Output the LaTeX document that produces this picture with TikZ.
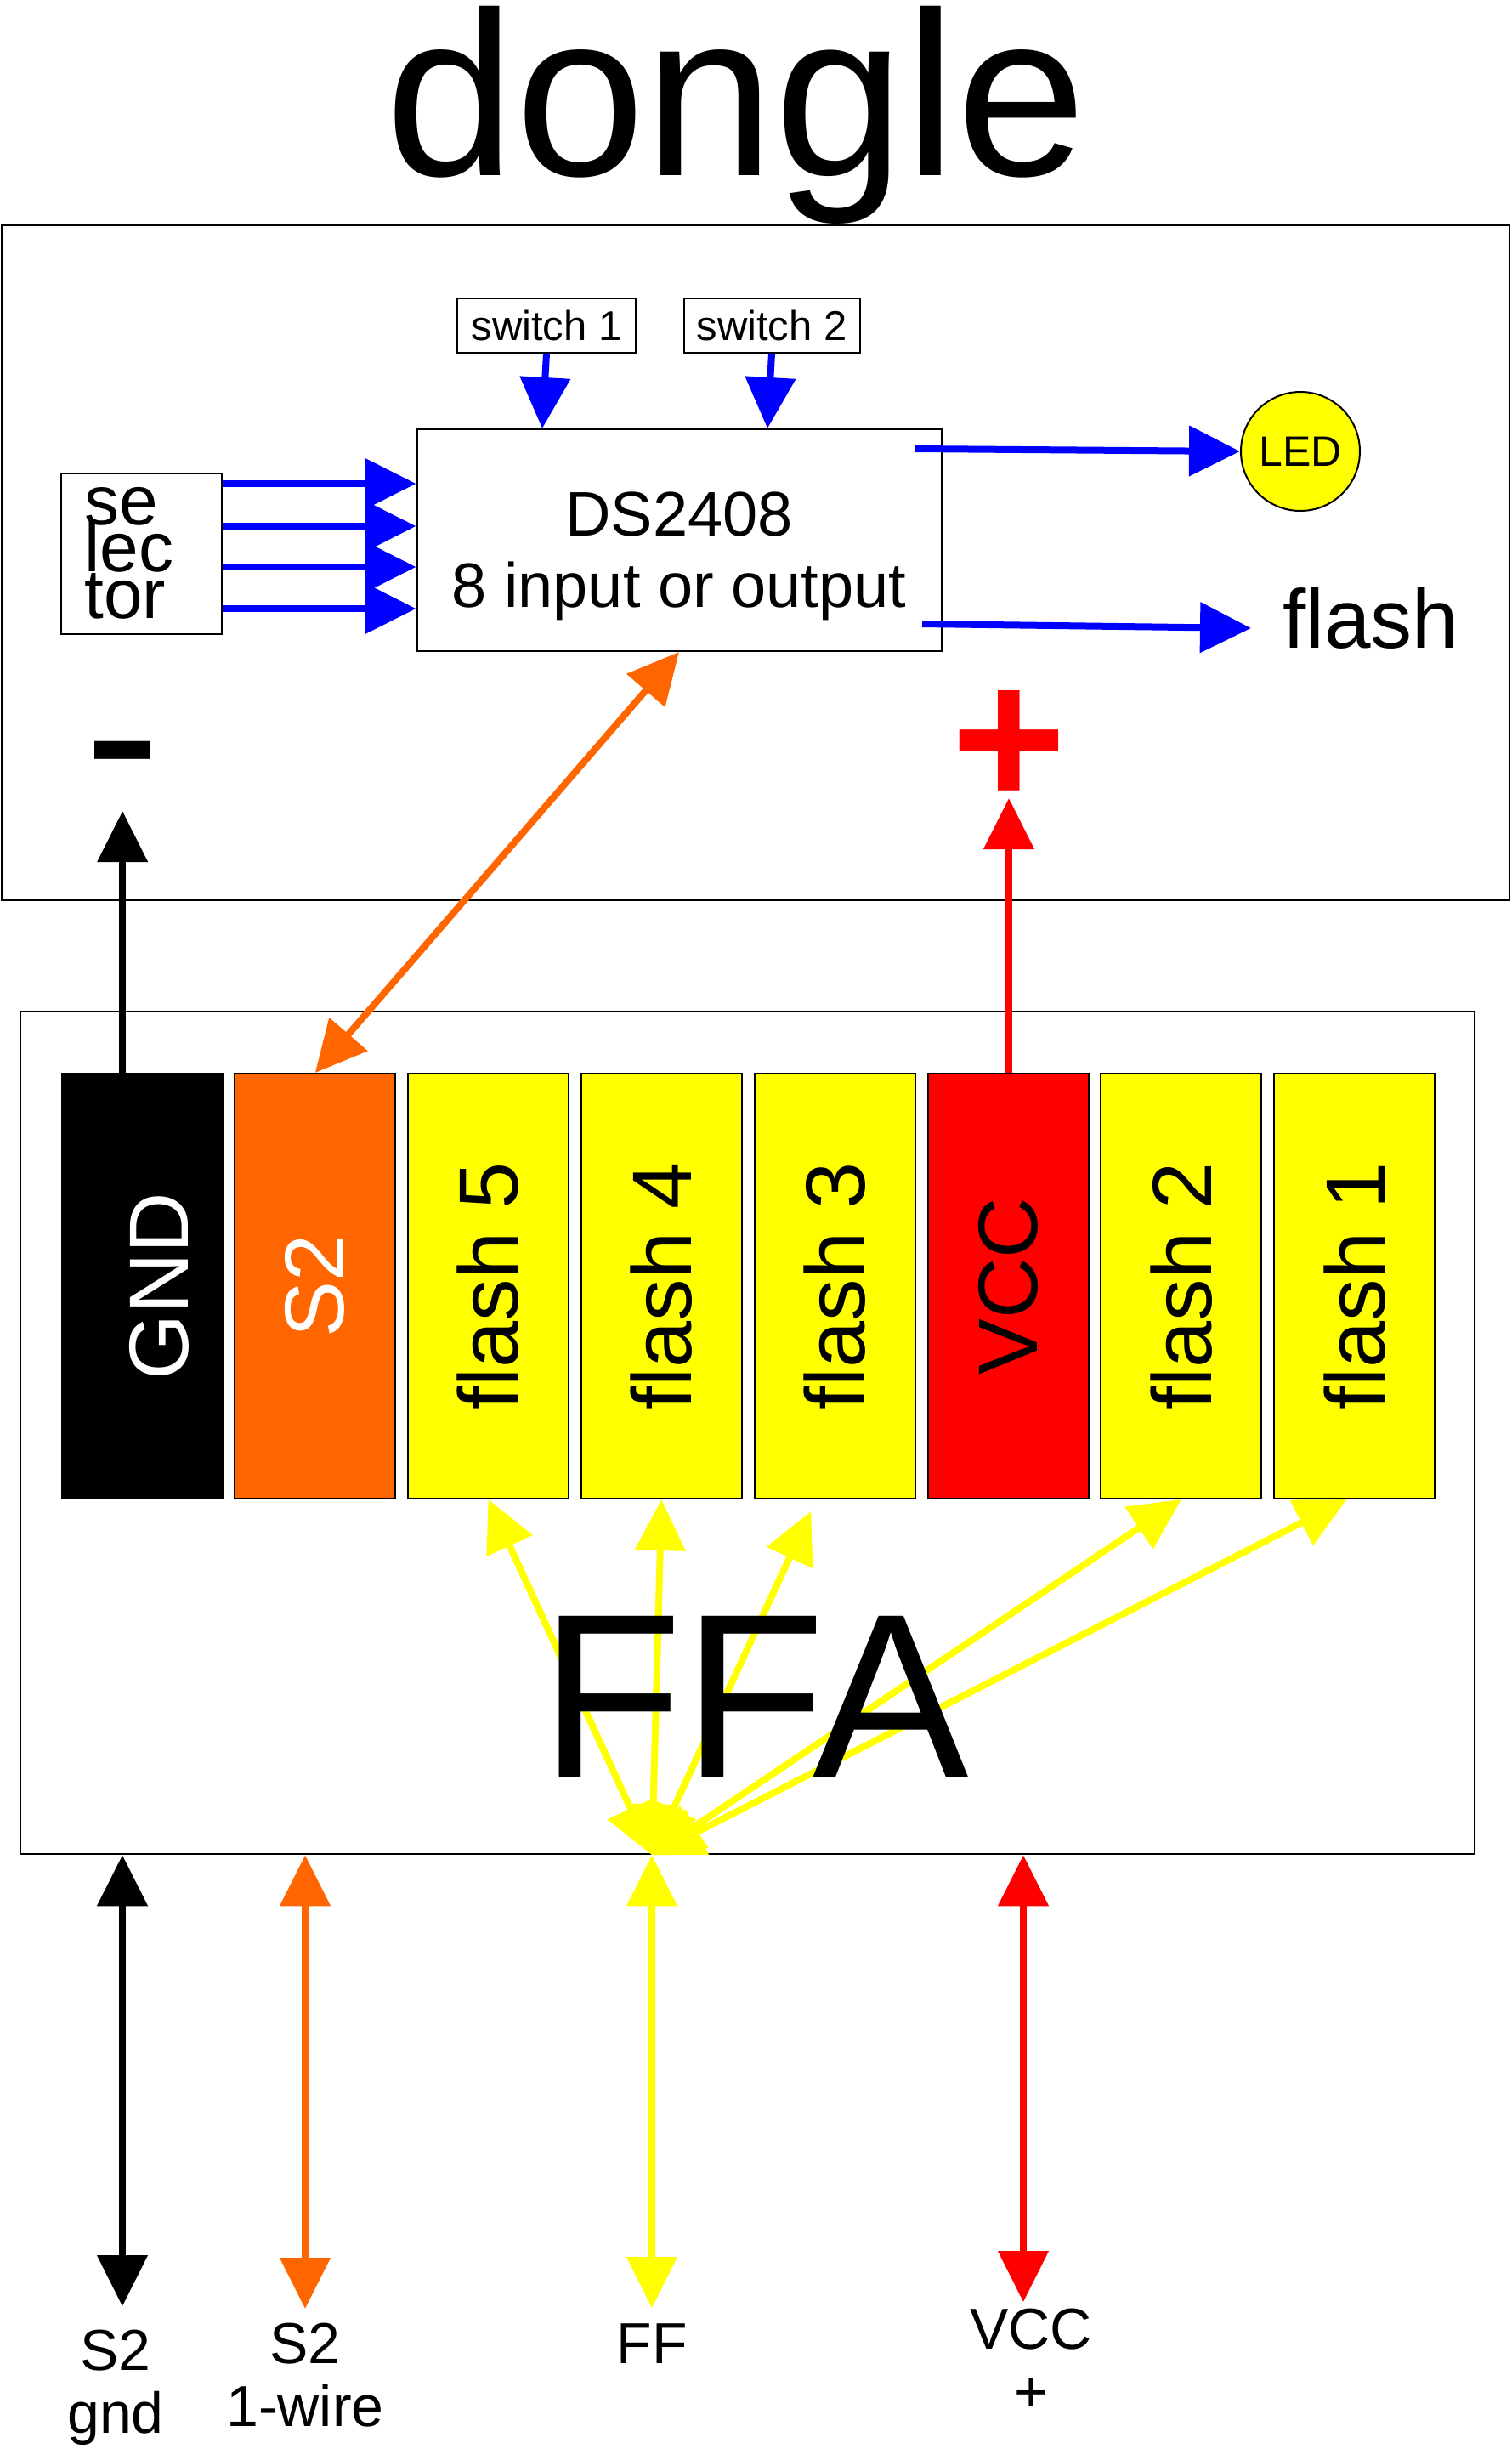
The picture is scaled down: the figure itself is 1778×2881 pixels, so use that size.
\documentclass[tikz,border=0pt]{standalone}
\usepackage{fontspec}
\setmainfont{Liberation Sans}
\usetikzlibrary{positioning,arrows.meta}
\definecolor{wireblue}{HTML}{0000FF}
\definecolor{s2orange}{HTML}{FF6600}
\definecolor{ffyellow}{HTML}{FFFF00}
\definecolor{vccred}{HTML}{FF0000}

\begin{document}
\begin{tikzpicture}[x=1pt, y=-1pt, boxframe/.style={draw, line width=2.5pt, inner sep=0pt}, smallbox/.style={draw, line width=2pt, fill=white, inner sep=0pt}, slot/.style={draw, line width=2pt, minimum width=189pt, minimum height=500pt, inner sep=0pt, font=\fontsize{99pt}{110pt}\selectfont}, lbl/.style={anchor=north, align=center, inner sep=0pt, font=\fontsize{68pt}{74pt}\selectfont}, rel/.style={line width=8pt, -{Triangle[length=60pt,width=58pt]}}, duplex/.style={line width=8pt, {Triangle[length=60pt,width=58pt]}-{Triangle[length=60pt,width=58pt]}}]
\useasboundingbox (0,0) rectangle (1778,2881);
% dongle
\node[anchor=base, inner sep=0pt, font=\fontsize{275pt}{300pt}\selectfont] (title) at (866,206) {dongle};
\node[boxframe, minimum width=1774pt, minimum height=794pt] (dongle) at (889,661.5) {};
\node[smallbox, minimum width=210pt, minimum height=64pt, font=\fontsize{49pt}{55pt}\selectfont] (swone) at (643,383) {switch 1};
\node[smallbox, minimum width=207pt, minimum height=64pt, font=\fontsize{49pt}{55pt}\selectfont] (swtwo) at (908,383) {switch 2};
\node[smallbox, minimum width=617pt, minimum height=261pt, align=center, text height=174pt, font=\fontsize{74pt}{84.5pt}\selectfont] (ds) at (799,635.5) {DS2408\\8 input or output};
\node[smallbox, minimum width=189pt, minimum height=189pt, text width=133pt, align=left, font=\fontsize{82pt}{55pt}\selectfont] (sel) at (166,651) {\lineskiplimit=-200pt\relax se\\lec\\tor};
\node[circle, draw, line width=2pt, fill=ffyellow, minimum size=140pt, inner sep=0pt, font=\fontsize{50pt}{55pt}\selectfont] (led) at (1530,531) {LED};
\node[anchor=base west, inner sep=0pt, font=\fontsize{98pt}{110pt}\selectfont] (flashlbl) at (1509,762) {flash};
\node[anchor=base west, inner sep=0pt, font=\fontsize{270pt}{300pt}\selectfont] (minus) at (99,954) {-};
\node[inner sep=0pt, text=vccred, font=\fontsize{232pt}{260pt}\selectfont\bfseries] (plus) at (1187,880) {+};
\coordinate (ledout) at (1077,528);
\coordinate (flashout) at (1085,734);
\foreach \y in {569,619,667,716}
  \draw[rel, wireblue] (sel.east |- 0,\y) -- (ds.west |- 0,\y);
\draw[rel, wireblue] (swone.south) -- ([xshift=-5pt]swone.south |- ds.north);
\draw[rel, wireblue] (swtwo.south) -- ([xshift=-5pt]swtwo.south |- ds.north);
\draw[rel, wireblue] (ledout) -- (led.west);
\draw[rel, wireblue] (flashout) -- ([xshift=-37pt,yshift=23pt]flashlbl.base west);
% FFA
\node[boxframe, minimum width=1711pt, minimum height=991pt] (ffa) at (879.5,1685.5) {};
\node[slot, fill=black, text=white] (gnd) at (167,1513) {\hspace*{40pt}\rotatebox{90}{GND}};
\node[slot, fill=s2orange, text=white, right=12.8pt of gnd] (stwo) {\rotatebox{90}{S2}};
\node[slot, fill=ffyellow, right=12.8pt of stwo] (ffive) {\rotatebox{90}{flash 5}};
\node[slot, fill=ffyellow, right=12.8pt of ffive] (ffour) {\rotatebox{90}{flash 4}};
\node[slot, fill=ffyellow, right=12.8pt of ffour] (fthree) {\rotatebox{90}{flash 3}};
\node[slot, fill=vccred, right=12.8pt of fthree] (vcc) {\rotatebox{90}{VCC}};
\node[slot, fill=ffyellow, right=12.8pt of vcc] (ftwo) {\rotatebox{90}{flash 2}};
\node[slot, fill=ffyellow, right=12.8pt of ftwo] (fone) {\rotatebox{90}{flash 1}};
% outside
\node[lbl] (gndlbl) at (136,2741) {S2\\gnd};
\node[lbl] (wirelbl) at (359,2733) {S2\\1-wire};
\node[lbl] (fflbl) at (767,2733) {FF};
\node[lbl] (vcclbl) at (1213,2716) {VCC\\+};
\coordinate (hub) at (fflbl.north |- ffa.south);
\draw[duplex, ffyellow] (hub) -- (ffive.south);
\draw[duplex, ffyellow] (hub) -- (ffour.south);
\draw[duplex, ffyellow] (hub) -- ([xshift=-28pt,yshift=-14pt]fthree.south);
\draw[duplex, ffyellow] (hub) -- (ftwo.south);
\draw[duplex, ffyellow] (hub) -- ([xshift=-9pt]fone.south);
\node[anchor=base, inner sep=0pt, font=\fontsize{275pt}{300pt}\selectfont] (ffalbl) at (888,2090) {FFA};
\draw[duplex, s2orange] (stwo.north) -- (ds.south);
\draw[rel] (minus |- gnd.north) -- (minus.south);
\draw[rel, vccred] (plus |- vcc.north) -- ([yshift=-59pt]plus.center);
\draw[duplex] ([xshift=8pt]gndlbl.north |- ffa.south) -- ([xshift=8pt,yshift=28pt]gndlbl.north);
\draw[duplex, s2orange] (wirelbl.north |- ffa.south) -- ([yshift=17pt]wirelbl.north);
\draw[duplex, ffyellow] (hub) -- ([yshift=18pt]fflbl.north);
\draw[duplex, vccred] ([xshift=-9pt]vcclbl.north |- ffa.south) -- ([xshift=-9pt,yshift=8pt]vcclbl.north);
\end{tikzpicture}
\end{document}
